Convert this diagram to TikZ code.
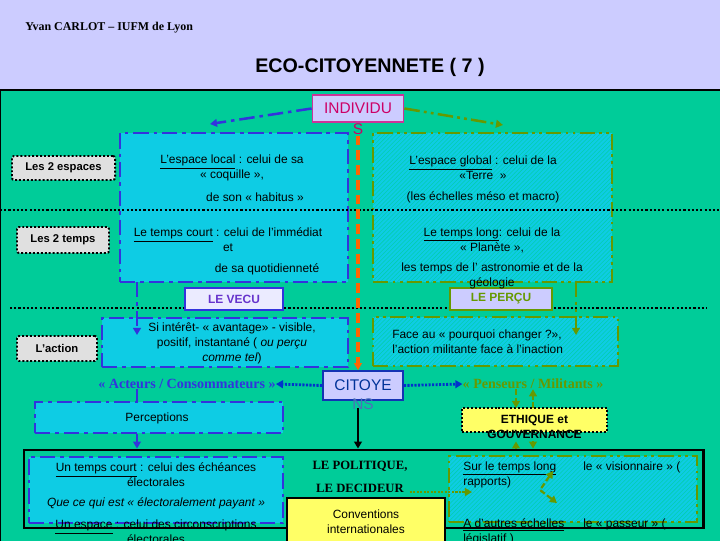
\documentclass[tikz,border=0pt]{standalone}
\usepackage{fontspec}
\setmainfont{Liberation Sans}
\newfontfamily\timesfont{Liberation Serif}
\usetikzlibrary{calc, positioning, patterns, arrows.meta}

\definecolor{lavande}{RGB}{204,204,255}
\definecolor{vertfond}{RGB}{0,204,153}
\definecolor{cyanboite}{RGB}{14,204,228}
\definecolor{bleutrait}{RGB}{51,51,221}
\definecolor{vertolive}{RGB}{102,153,0}
\definecolor{orangetrait}{RGB}{255,102,0}
\definecolor{rosetrait}{RGB}{204,51,153}
\definecolor{rosetexte}{RGB}{204,0,102}
\definecolor{bleucitoyen}{RGB}{0,51,153}
\definecolor{violetvecu}{RGB}{102,51,204}
\definecolor{jaune}{RGB}{255,255,102}
\definecolor{grisclair}{RGB}{224,224,224}
\definecolor{bleupointe}{RGB}{0,51,204}

\begin{document}
\begin{tikzpicture}[x=0.025cm, y=-0.025cm, >={Triangle[length=5pt, width=5.5pt]},
  every node/.style={inner sep=0, font=\fontsize{8.5}{10.6}\selectfont}]
\tikzstyle{trait bleu}=[draw=bleutrait, line width=1.8pt, dash pattern=on 11pt off 3.5pt on 2.5pt off 3.5pt]
\tikzstyle{trait vert}=[draw=vertolive, line width=1.8pt, dash pattern=on 11pt off 3pt on 2pt off 3pt on 2pt off 3pt]
\tikzstyle{boite bleue}=[rectangle, trait bleu, fill=cyanboite]
\tikzstyle{boite verte}=[rectangle, trait vert, preaction={fill=cyanboite}, pattern=north east lines, pattern color=vertfond!70!cyanboite]
\tikzstyle{etiquette}=[rectangle, draw=black, line width=1.4pt, dash pattern=on 1.4pt off 1.4pt, fill=grisclair, rounded corners=1.5pt, font=\bfseries\fontsize{8}{9.6}\selectfont]
\tikzstyle{pointille bleu}=[draw=bleupointe, line width=2pt, dash pattern=on 1.5pt off 1pt, ->]
\tikzstyle{fleche verte}=[draw=vertolive, line width=1.6pt, dash pattern=on 4pt off 2pt, ->]
\tikzstyle{texte}=[align=center]
\tikzstyle{gras serif}=[font=\timesfont\bfseries\fontsize{10}{12}\selectfont]

% fond et bandeau
\useasboundingbox (0,0) rectangle (720,540);
\fill[lavande] (0,0) rectangle (720,540);
\begin{scope}
\clip (0,0) rectangle (720,540);
\node[anchor=west, font=\timesfont\bfseries\fontsize{8.5}{10}\selectfont] (auteur) at (25,28) {Yvan CARLOT – IUFM de Lyon};
\node[font=\bfseries\fontsize{14}{16}\selectfont] (titre) at (370,67) {ECO-CITOYENNETE ( 7 )};
\draw[fill=vertfond, line width=1.5pt] (0,90) rectangle (725,545);

% grandes boites
\node[boite bleue, minimum width=5.7cm, minimum height=3.725cm] (local) at (234,207.5) {};
\node[boite verte, minimum width=5.975cm, minimum height=3.725cm] (global) at (492.5,207.5) {};
\node[boite bleue, minimum width=6.15cm, minimum height=1.225cm] (actbleu) at (225,342.5) {};
\node[boite verte, minimum width=6.125cm, minimum height=1.225cm] (actvert) at (495.5,341.5) {};
\node[boite bleue, minimum width=6.2cm, minimum height=0.775cm] (percep) at (159,417.5) {};
\node[draw, line width=2pt, minimum width=16.975cm, minimum height=1.95cm] (cadre) at (363.5,489) {};
\node[boite bleue, minimum width=6.35cm, minimum height=1.65cm] (court) at (156,490) {};
\node[boite verte, minimum width=6.2cm, minimum height=1.65cm] (long) at (573,489) {};

% lignes de separation
\draw[line width=1.5pt, dash pattern=on 1.5pt off 1.5pt] (0,210) -- (720,210);
\draw[line width=1.5pt, dash pattern=on 1.5pt off 1.5pt] (10,308) -- (707,308);

% etiquettes de gauche
\node[etiquette, minimum width=2.575cm, minimum height=0.6cm] (espaces) at (63.5,168) {Les 2 espaces};
\node[etiquette, minimum width=2.3cm, minimum height=0.65cm] (temps) at (63,240) {Les 2 temps};
\node[etiquette, minimum width=2cm, minimum height=0.625cm] (action) at (57,348.5) {L’action};

% le vecu, le percu
\node[draw=bleutrait, line width=1.3pt, fill=white!60!lavande, text=violetvecu, font=\bfseries\fontsize{8.5}{10}\selectfont, minimum width=2.45cm, minimum height=0.55cm] (vecu) at (234,299) {LE VECU};
\node[draw=vertolive, line width=1.3pt, fill=lavande, text=vertolive, font=\bfseries\fontsize{8.5}{10}\selectfont, minimum width=2.55cm, minimum height=0.55cm] (percu) at (501,299) {LE PERÇU};

% individu et citoyens
\node[draw=rosetrait, line width=1.3pt, fill=lavande, text=rosetexte, font=\fontsize{11}{13}\selectfont, minimum width=2.275cm, minimum height=0.675cm,
  label={[text=rosetexte, font=\fontsize{11}{13}\selectfont, label distance=0.5pt]below:S}] (individu) at (358,108.5) {INDIVIDU};
\node[draw=bleucitoyen!60!bleutrait, line width=1.3pt, fill=lavande, text=bleucitoyen, font=\fontsize{11}{13}\selectfont, minimum width=2cm, minimum height=0.725cm,
  label={[text=bleucitoyen!70!white, font=\fontsize{11}{13}\selectfont, label distance=-2pt]below:NS}] (citoyens) at (363,385.5) {CITOYE};

% textes des espaces et des temps
\node[texte] (tlocal) at (232,168) {\underline{L’espace local} : celui de sa\\« coquille »,};
\node[texte] (thabitus) at (255,197) {de son « habitus »};
\node[texte] (tglobal) at (483,168) {\underline{L’espace global} : celui de la\\«Terre~~»};
\node[texte] (tmacro) at (483,197) {(les échelles méso et macro)};
\node[texte] (tcourt) at (228,240) {\underline{Le temps court} : celui de l’immédiat\\et};
\node[texte] (tquotid) at (267,269) {de sa quotidienneté};
\node[texte] (tlong) at (492,240) {\underline{Le temps long}: celui de la\\« Planète »,};
\node[texte] (tastro) at (492,276) {les temps de l’ astronomie et de la\\géologie};

% textes de l'action
\node[texte] (tavantage) at (232,343) {Si intérêt- « avantage» - visible,\\positif, instantané ( \textit{ou perçu}\\\textit{comme tel})};
\node[anchor=west, align=left] (tmilitant) at (392,342) {Face au « pourquoi changer ?»,\\l’action militante face à l’inaction};

% acteurs et penseurs
\node[gras serif, text=bleutrait] (acteurs) at (187,384) {« Acteurs / Consommateurs »};
\node[gras serif, text=vertolive] (penseurs) at (533,384) {« Penseurs / Militants »};
\node (tpercep) at (157,418) {Perceptions};
\node[draw, line width=1.4pt, dash pattern=on 1.4pt off 1.4pt, fill=jaune, font=\bfseries\fontsize{8.5}{10}\selectfont, minimum width=3.625cm, minimum height=0.6cm,
  label={[font=\bfseries\fontsize{8.5}{10}\selectfont, label distance=-2.5pt]below:GOUVERNANCE}] (ethique) at (534.5,420) {ETHIQUE et};

% le politique
\node[texte] (techeance) at (156,474.5) {\underline{Un temps court} : celui des échéances\\électorales};
\node (tpayant) at (156,503) {\itshape Que ce qui est « électoralement payant »};
\node[texte] (tcircons) at (156,532) {\underline{Un espace} : celui des circonscriptions\\électorales};
\node[font=\timesfont\bfseries\fontsize{9}{11}\selectfont] (politique) at (360,466) {LE POLITIQUE,};
\node[font=\timesfont\bfseries\fontsize{9}{11}\selectfont] (decideur) at (360,488) {LE DECIDEUR};
\node[draw, line width=2pt, fill=jaune, align=center, minimum width=3.95cm, minimum height=1.2cm] (conventions) at (366,522) {Conventions\\internationales};
\node[anchor=west, align=left] (tsurlong) at (463,474.5) {\underline{Sur le temps long}\\rapports)};
\node[anchor=west] (tvision) at (583,467) {le « visionnaire » (};
\node[anchor=west, align=left] (techelles) at (463,532) {\underline{A d’autres échelles}\\législatif )};
\node[anchor=west] (tpasseur) at (583,524) {le « passeur » (};

% fleches
\coordinate (vlocal) at (210,124);
\coordinate (vglobal) at (503,125);
\coordinate (axevecu) at (137,282);
\coordinate (basvecu) at (137,335);
\coordinate (axepercu) at (576,282);
\coordinate (baspercu) at (576,335);
\coordinate (ethg) at (516,408);
\coordinate (ethd) at (533,408);
\coordinate (vlong) at (472,492);
\coordinate (visA) at (553,471);
\coordinate (visB) at (540,490);
\coordinate (visC) at (557,503);

\draw[trait bleu, ->] (individu.west) -- (vlocal);
\draw[trait vert, ->] (individu.east) -- (vglobal);
\draw[draw=orangetrait, line width=2.2pt, dash pattern=on 7pt off 3.5pt, ->] ([yshift=-9pt]individu.south) -- (individu.south |- citoyens.north);
\draw[trait bleu, ->] (axevecu) -- (basvecu);
\draw[trait vert, ->] (axepercu) -- (baspercu);
\draw[pointille bleu] (citoyens.west) -- (acteurs.east);
\draw[pointille bleu] (citoyens.east) -- (penseurs.west);
\draw[trait bleu] (acteurs.south -| axevecu) -- (percep.north -| axevecu);
\draw[trait bleu, ->] (percep.south -| axevecu) -- (cadre.north -| axevecu);
\draw[line width=2pt, ->] ([yshift=-5pt]citoyens.south -| individu.south) -- (cadre.north -| individu.south);
\draw[fleche verte] (penseurs.south -| ethg) -- (ethg);
\draw[fleche verte] (ethd) -- (penseurs.south -| ethd);
\draw[fleche verte] (cadre.north -| ethg) -- ([yshift=-6pt]ethique.south -| ethg);
\draw[fleche verte] ([yshift=-6pt]ethique.south -| ethd) -- (cadre.north -| ethd);
\draw[draw=vertolive, line width=2pt, dash pattern=on 1.5pt off 1pt, ->] ([xshift=4pt]decideur.east |- vlong) -- (vlong);
\draw[fleche verte, <->] (visA) -- (visB) -- (visC);
\end{scope}
\end{tikzpicture}
\end{document}
